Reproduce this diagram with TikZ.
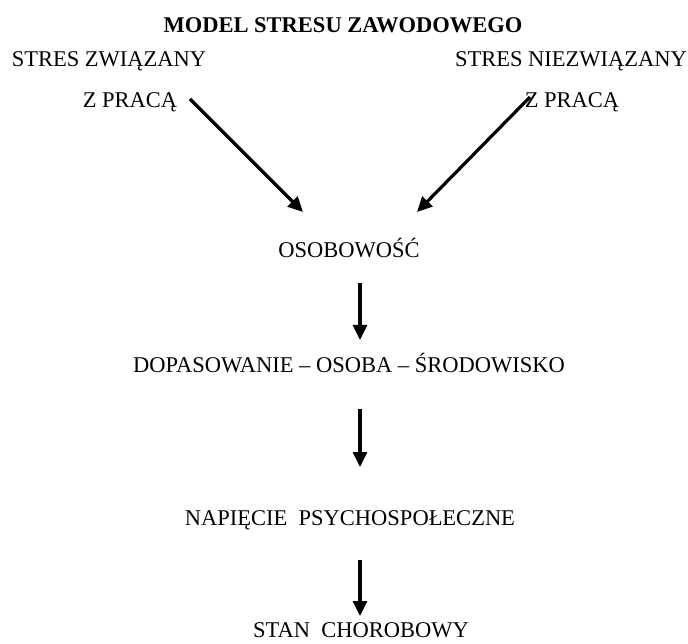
\documentclass[tikz,border=0pt]{standalone}
\usepackage{fontspec}
\setmainfont{Liberation Serif}
\usetikzlibrary{arrows.meta,positioning}
\tikzset{
  lbl/.style={font=\fontsize{22.5}{27}\selectfont,anchor=base,inner sep=0pt,text=black},
  ttl/.style={lbl,font=\fontsize{22.5}{27}\selectfont\bfseries},
  arrow/.style={-{Triangle[length=15pt,width=14pt]},line width=3.2pt,color=black},
}
\begin{document}
\begin{tikzpicture}[x=1pt,y=-1pt]
  \useasboundingbox (0,0) rectangle (688,644);
  % texts
  \node[ttl] (title) at (343,33) {MODEL STRESU ZAWODOWEGO};
  \node[lbl] (workA) at (109,67) {STRES ZWIĄZANY};
  \node[lbl] (workB) at (130,108) {Z PRACĄ};
  \node[lbl] (privA) at (571,67) {STRES NIEZWIĄZANY};
  \node[lbl] (privB) at (572,108) {Z PRACĄ};
  \node[lbl] (pers) at (349,258) {OSOBOWOŚĆ};
  \node[lbl] (fit) at (349,372) {DOPASOWANIE – OSOBA – ŚRODOWISKO};
  \node[lbl] (tens) at (350,525) {NAPIĘCIE\ \ PSYCHOSPOŁECZNE};
  \node[lbl] (ill) at (361,637) {STAN\ \ CHOROBOWY};
  % arrow ends
  \coordinate (workS) at (190,99);
  \coordinate (workE) at (303,212);
  \coordinate (privS) at (530,97);
  \coordinate (privE) at (417,212);
  \draw[arrow] (workS) -- (workE);
  \draw[arrow] (privS) -- (privE);
  \foreach \a/\b in {283/340,409/467,560/616}
    \draw[arrow] (360,\a) -- (360,\b);
\end{tikzpicture}
\end{document}
